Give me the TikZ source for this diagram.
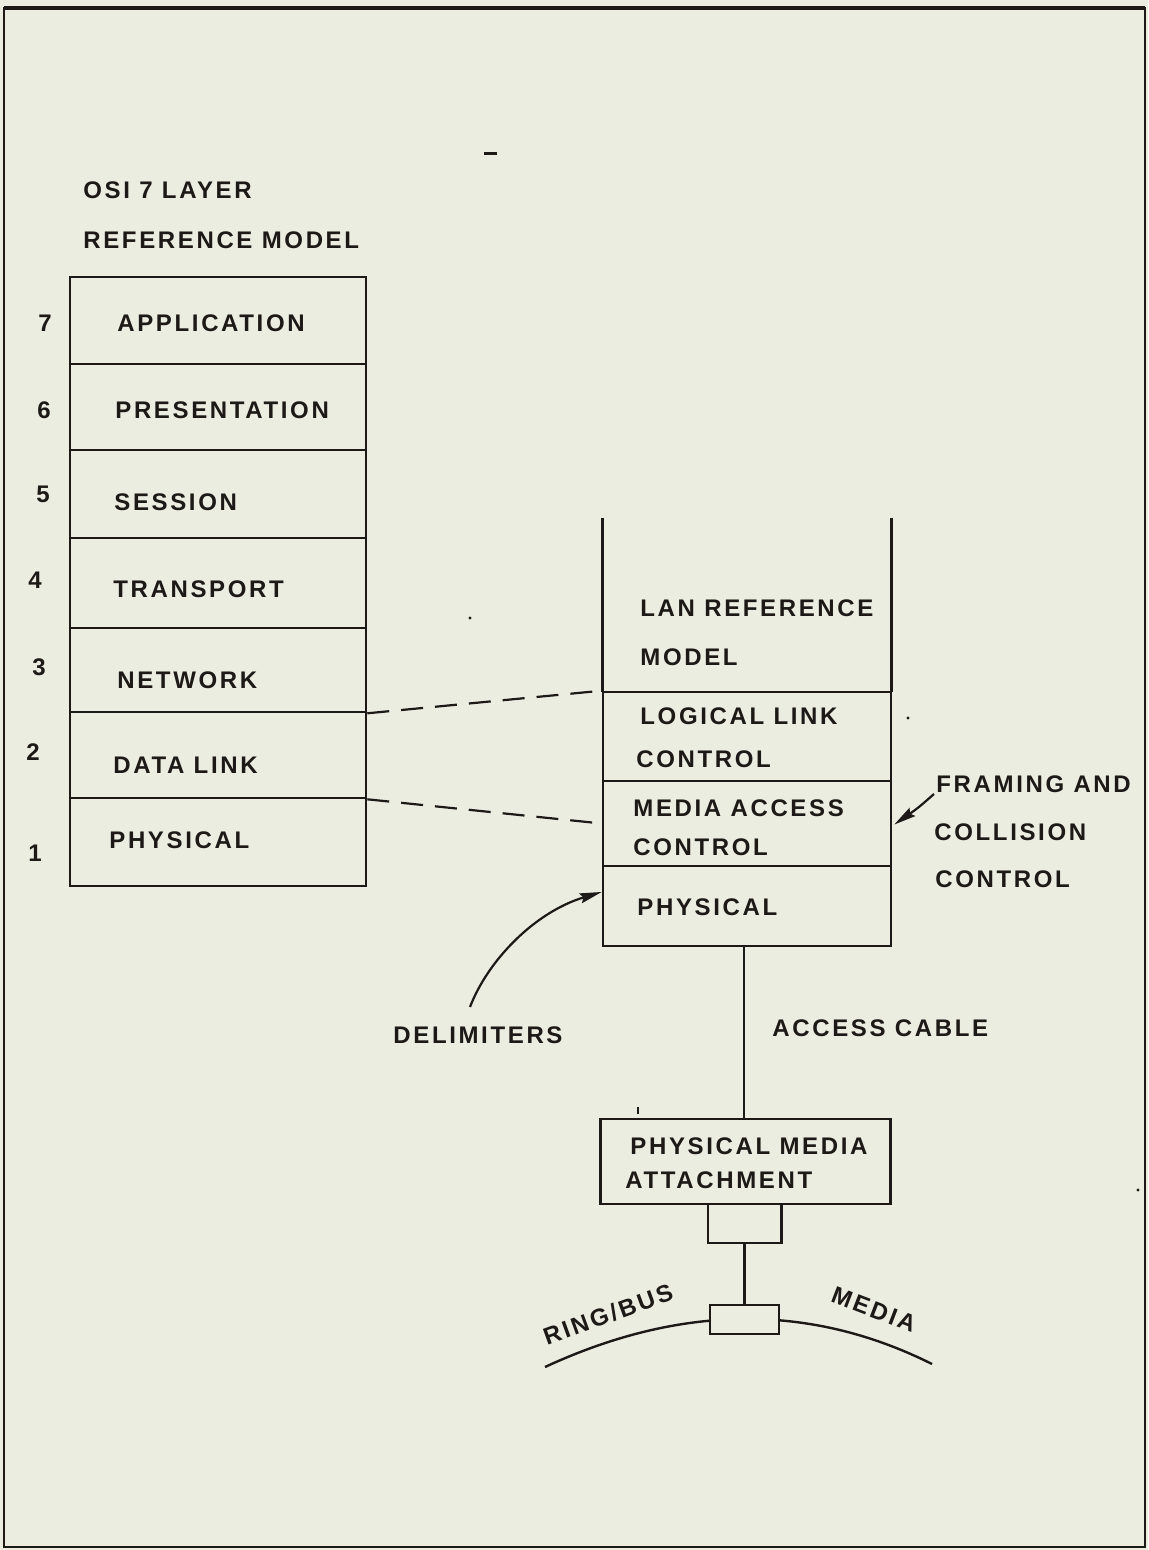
\documentclass[tikz,border=0pt]{standalone}
\usepackage{fontspec}
\setmainfont{Liberation Sans}[LetterSpace=11]
\usetikzlibrary{arrows.meta,calc}
\definecolor{paper}{RGB}{236,237,225}
\definecolor{ink}{RGB}{28,25,22}
\tikzset{
  lbl/.style={font=\bfseries\fontsize{12}{14}\selectfont, text=ink, inner sep=0pt,
              anchor=west, text height=8.6pt, text depth=0pt},
  num/.style={lbl, anchor=center},
  layer/.style={draw=ink, line width=1.3pt, inner sep=0pt},
  ghost/.style={inner sep=0pt},
  wire/.style={draw=ink, line width=1.1pt},
  dashlink/.style={draw=ink, line width=1.1pt, dash pattern=on 11pt off 6pt},
  pointer/.style={draw=ink, line width=1.1pt, -{Stealth[length=11pt,width=5pt,inset=1.5pt]}},
}
\begin{document}
\begin{tikzpicture}[x=0.5pt,y=-0.5pt]
  % page and frame
  \fill[paper] (0,0) rectangle (1148,1550);
  \useasboundingbox (0,0) rectangle (1148,1550);
  \draw[ink, line width=1.1pt] (4,8) rectangle (1145,1547);
  \draw[ink, line width=1.8pt] (4,8) -- (1145,8);

  % specks on the sheet
  \fill[ink] (484,152) rectangle (497,155);
  \fill[ink] (470,618) circle (1.6);
  \fill[ink] (908,718) circle (1.6);
  \fill[ink] (1138,1190) circle (1.6);
  \draw[ink, line width=0.8pt] (638,1107) -- (638,1114);

  % OSI seven layer stack
  \node[lbl] (t1) at (83,190) {OSI 7 LAYER};
  \node[lbl] (t2) at (83,240) {REFERENCE MODEL};

  \node[layer, minimum width=148pt, minimum height=43.5pt] (osi7) at (218,320.5) {};
  \node[layer, minimum width=148pt, minimum height=43pt]   (osi6) at (218,407) {};
  \node[layer, minimum width=148pt, minimum height=44pt]   (osi5) at (218,494) {};
  \node[layer, minimum width=148pt, minimum height=45pt]   (osi4) at (218,583) {};
  \node[layer, minimum width=148pt, minimum height=42pt]   (osi3) at (218,670) {};
  \node[layer, minimum width=148pt, minimum height=43pt]   (osi2) at (218,755) {};
  \node[layer, minimum width=148pt, minimum height=44pt]   (osi1) at (218,842) {};

  \node[lbl] (l7) at (117,323) {APPLICATION};
  \node[lbl] (l6) at (115,410) {PRESENTATION};
  \node[lbl] (l5) at (114,502) {SESSION};
  \node[lbl] (l4) at (113,589) {TRANSPORT};
  \node[lbl] (l3) at (117,680) {NETWORK};
  \node[lbl] (l2) at (113,765) {DATA LINK};
  \node[lbl] (l1) at (109,840) {PHYSICAL};

  \node[num] (n7) at (45,323) {7};
  \node[num] (n6) at (44,410) {6};
  \node[num] (n5) at (43,494) {5};
  \node[num] (n4) at (35,580) {4};
  \node[num] (n3) at (39,667) {3};
  \node[num] (n2) at (33,752) {2};
  \node[num] (n1) at (35,853) {1};

  % LAN reference model stack
  \node[ghost, minimum width=144pt, minimum height=87pt] (lanhead) at (747,605) {};
  \draw[wire, line width=1.3pt] (lanhead.north west) -- (lanhead.south west);
  \draw[wire, line width=1.3pt] (lanhead.north east) -- (lanhead.south east);
  \node[layer, minimum width=144pt, minimum height=44.5pt] (llc) at (747,736.5) {};
  \node[layer, minimum width=144pt, minimum height=42.5pt] (mac) at (747,823.5) {};
  \node[layer, minimum width=144pt, minimum height=40pt]   (phy) at (747,906) {};

  \node[lbl] (m1) at (640,608) {LAN REFERENCE};
  \node[lbl] (m2) at (640,657) {MODEL};
  \node[lbl] (c1) at (640,716) {LOGICAL LINK};
  \node[lbl] (c2) at (636,759) {CONTROL};
  \node[lbl] (a1) at (633,808) {MEDIA ACCESS};
  \node[lbl] (a2) at (633,847) {CONTROL};
  \node[lbl] (p1) at (637,907) {PHYSICAL};

  % correspondence between the two models
  \draw[dashlink] (osi3.south east) -- (llc.north west);
  \draw[dashlink] (osi2.south east) -- (mac.west);

  % framing annotation
  \node[lbl] (f1) at (936,784) {FRAMING AND};
  \node[lbl] (f2) at (934,832) {COLLISION};
  \node[lbl] (f3) at (935,879) {CONTROL};
  \coordinate (fs) at (934,794);
  \draw[pointer] (fs) .. controls (918,808) .. ($(mac.east)+(2,1)$);

  % delimiters annotation
  \node[lbl] (dl) at (393,1035) {DELIMITERS};
  \coordinate (ds) at (470,1007);
  \draw[pointer] (ds) .. controls (488,960) and (535,912) .. ($(phy.north west)!0.33!(phy.south west)$);

  % access cable and attachment
  \node[layer, minimum width=145pt, minimum height=42.5pt] (pma) at (745.5,1161.5) {};
  \node[lbl] (pm1) at (630,1146) {PHYSICAL MEDIA};
  \node[lbl] (pm2) at (625,1180) {ATTACHMENT};
  \draw[wire] ($(phy.south)+(-3,0)$) -- ($(pma.north)+(-1.5,0)$);
  \node[lbl] (ac) at (772,1028) {ACCESS CABLE};

  \node[ghost, minimum width=36.5pt, minimum height=19pt] (plug) at (744.5,1223.5) {};
  \draw[wire] (plug.north west) -- (plug.south west) -- (plug.south east) -- (plug.north east);

  % ring / bus medium with tap
  \draw[ink, line width=1.2pt] (545,1367) .. controls (681,1304) and (810,1303) .. (932,1364);
  \node[layer, line width=1.1pt, fill=paper, minimum width=34.5pt, minimum height=14.5pt] (tap) at (744.5,1319.5) {};
  \draw[wire] (plug.south) -- (tap.north);

  \node[lbl, anchor=center, rotate=20] (rb) at (608,1314) {RING/BUS};
  \node[lbl, anchor=center, rotate=-21] (md) at (874,1309) {MEDIA};
\end{tikzpicture}
\end{document}
